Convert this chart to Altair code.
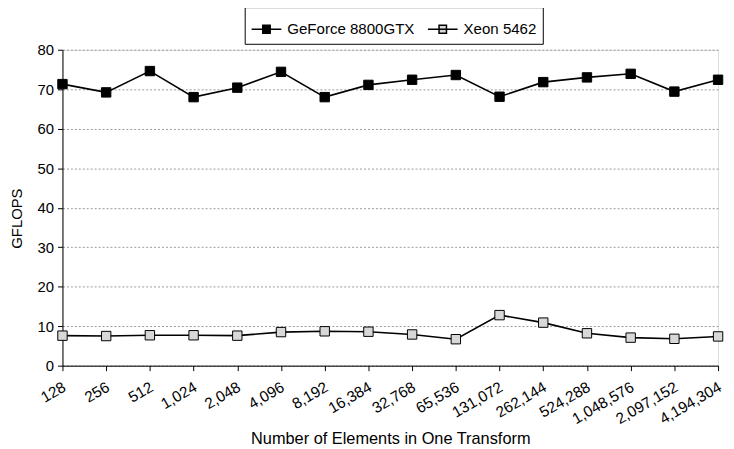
import altair as alt
import pandas as pd

sizes = ["128", "256", "512", "1,024", "2,048", "4,096", "8,192", "16,384",
         "32,768", "65,536", "131,072", "262,144", "524,288", "1,048,576",
         "2,097,152", "4,194,304"]
geforce = [71.3, 69.2, 74.6, 68.0, 70.4, 74.4, 68.0, 71.1,
           72.4, 73.6, 68.1, 71.8, 73.0, 73.9, 69.4, 72.4]
xeon = [7.6, 7.5, 7.7, 7.7, 7.6, 8.5, 8.7, 8.6,
        7.9, 6.7, 12.8, 10.9, 8.2, 7.1, 6.8, 7.4]
series = ["GeForce 8800GTX", "Xeon 5462"]

rows = []
for s, vals in zip(series, [geforce, xeon]):
    for n, v in zip(sizes, vals):
        rows.append({"size": n, "gflops": v, "series": s})
df = pd.DataFrame(rows)

FONT = "Liberation Sans"

x = alt.X("size:N", sort=sizes, scale=alt.Scale(padding=0),
          axis=alt.Axis(title="Number of Elements in One Transform",
                        labelAngle=-30, labelAlign="right", labelBaseline="top",
                        labelFontSize=15.5, labelPadding=9, labelOffset=-2,
                        tickSize=5, labelBound=False,
                        titleFontSize=16.5, titleFontWeight="normal",
                        titleY=74, titleBaseline="middle",
                        grid=False, domainColor="black", tickColor="black",
                        labelColor="black", titleColor="black", labelFont=FONT,
                        titleFont=FONT))
y = alt.Y("gflops:Q", scale=alt.Scale(domain=[0, 80]),
          axis=alt.Axis(title="GFLOPS", values=list(range(0, 81, 10)),
                        labelFontSize=15, tickSize=5, labelPadding=4,
                        titleFontSize=15, titleFontWeight="normal",
                        titleY=170, titleX=-38,
                        grid=True, gridColor="#999999", gridDash=[2, 2],
                        gridWidth=1, domainColor="black", tickColor="black",
                        labelColor="black", titleColor="black", labelFont=FONT,
                        titleFont=FONT))

lines = alt.Chart(df).mark_line(color="black", strokeWidth=1.6).encode(
    x=x, y=y, detail="series:N")

points = alt.Chart(df).mark_point(shape="square", filled=True, size=90,
                                  stroke="black", strokeWidth=1, opacity=1).encode(
    x=x, y=y,
    fill=alt.Fill("series:N",
                  scale=alt.Scale(domain=series, range=["black", "#d8d8d8"]),
                  legend=alt.Legend(
                      title=None, orient="none", legendX=184, legendY=-43,
                      direction="horizontal",
                      symbolType="M-1,0H1M-0.25,-0.27H0.25V0.27H-0.25Z",
                      symbolSize=900, symbolStrokeColor="black",
                      symbolStrokeWidth=1.5, symbolOpacity=1,
                      labelFontSize=15.2, labelFont=FONT, labelColor="black",
                      columnPadding=10, labelOffset=5,
                      strokeColor="black", padding=6)))

chart = alt.layer(lines, points).properties(
    width=662, height=319,
    autosize=alt.AutoSizeParams(type="none"),
    padding={"left": 55, "top": 40, "right": 8, "bottom": 82},
).configure_view(stroke="black", strokeWidth=1).configure(font=FONT)

chart.save("out.html", embed_options={"renderer": "svg", "actions": False})
